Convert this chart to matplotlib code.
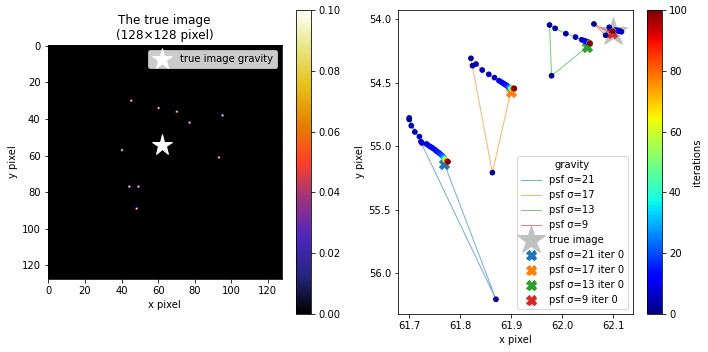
import numpy as np
import matplotlib
matplotlib.use("Agg")
import matplotlib.pyplot as plt
from matplotlib.lines import Line2D

# ---------------- data ----------------
img_size = 128
src_x = [45, 60, 70, 77, 95, 40, 93, 44, 49, 48]
src_y = [30, 34, 36, 42, 38, 57, 61, 77, 77, 89]
src_flux = [0.1] * 10
true_gx, true_gy = 62.1, 54.1

sigmas = [21, 17, 13, 9]

it21 = [1, 2, 3, 4, 5, 6, 7, 8, 9, 10, 11, 12, 13, 14, 15, 16, 18, 20, 25, 30, 40, 50, 60, 70, 80, 90, 100]
gx21 = [61.870, 61.700, 61.700, 61.704, 61.711, 61.720, 61.723, 61.725, 61.734, 61.738, 61.742, 61.746,
        61.750, 61.753, 61.756, 61.759, 61.762, 61.765, 61.767, 61.768, 61.769, 61.770, 61.771, 61.773,
        61.774, 61.775, 61.776]
gy21 = [56.204, 54.778, 54.790, 54.839, 54.888, 54.925, 54.965, 54.975, 54.983, 54.995, 55.005, 55.015,
        55.027, 55.037, 55.046, 55.055, 55.066, 55.076, 55.086, 55.093, 55.100, 55.105, 55.110, 55.114,
        55.118, 55.121, 55.123]

it17 = [1, 2, 3, 4, 5, 6, 7, 8, 9, 10, 12, 14, 16, 20, 25, 30, 40, 50, 60, 70, 80, 90, 100]
gx17 = [61.863, 61.821, 61.824, 61.831, 61.843, 61.856, 61.867, 61.876, 61.881, 61.885, 61.888, 61.891,
        61.893, 61.895, 61.897, 61.898, 61.899, 61.901, 61.902, 61.903, 61.904, 61.905, 61.906]
gy17 = [55.208, 54.309, 54.367, 54.354, 54.401, 54.435, 54.461, 54.485, 54.497, 54.507, 54.515, 54.523,
        54.530, 54.536, 54.540, 54.543, 54.545, 54.546, 54.546, 54.546, 54.546, 54.546, 54.546]

it13 = [1, 2, 3, 4, 5, 6, 7, 8, 10, 12, 15, 20, 30, 40, 50, 60, 70, 80, 90, 100]
gx13 = [61.979, 61.975, 61.986, 62.007, 62.026, 62.038, 62.043, 62.046, 62.048, 62.050, 62.051, 62.052,
        62.053, 62.054, 62.054, 62.054, 62.054, 62.054, 62.054, 62.054]
gy13 = [54.446, 54.047, 54.073, 54.115, 54.142, 54.163, 54.170, 54.175, 54.179, 54.182, 54.184, 54.186,
        54.188, 54.189, 54.190, 54.190, 54.191, 54.191, 54.191, 54.191]

it9 = [1, 2, 3, 4, 5, 6, 7, 8, 10, 12, 15, 20, 30, 40, 50, 60, 70, 80, 90, 100]
gx9 = [62.062, 62.085, 62.092, 62.110, 62.116, 62.113, 62.108, 62.105, 62.103, 62.102, 62.101, 62.100,
       62.100, 62.100, 62.099, 62.099, 62.099, 62.099, 62.099, 62.099]
gy9 = [54.039, 54.128, 54.065, 54.092, 54.100, 54.095, 54.090, 54.088, 54.090, 54.092, 54.094, 54.095,
       54.096, 54.096, 54.097, 54.097, 54.097, 54.097, 54.097, 54.097]

iter0_x = [61.769, 61.899, 62.049, 62.098]
iter0_y = [55.140, 54.575, 54.218, 54.112]

traj_it = [it21, it17, it13, it9]
traj_x = [gx21, gx17, gx13, gx9]
traj_y = [gy21, gy17, gy13, gy9]
colors = ["C0", "C1", "C2", "C3"]

# ---------------- figure ----------------
W, H, DPI = 708, 352, 72
fig = plt.figure(figsize=(W / DPI, H / DPI), dpi=DPI)

def ax_px(x0, y0, x1, y1):
    return fig.add_axes([x0 / W, 1 - y1 / H, (x1 - x0) / W, (y1 - y0) / H])

# left image
img = np.zeros((img_size, img_size))
for x, y, f in zip(src_x, src_y, src_flux):
    img[y, x] += f

ax1 = ax_px(47, 45, 282, 279)
im = ax1.imshow(img, cmap="CMRmap", vmin=0, vmax=0.1, interpolation="hanning",
                interpolation_stage="data")
ax1.plot([true_gx], [true_gy], marker="*", color="white", ms=22, ls="none",
         label="true image gravity")
ax1.set_title("The true image\n(128×128 pixel)", fontsize=12)
ax1.set_xlabel("x pixel")
ax1.set_ylabel("y pixel")
ax1.set_xticks([0, 20, 40, 60, 80, 100, 120])
ax1.set_yticks([0, 20, 40, 60, 80, 100, 120])
ax1.legend(loc="upper right", fontsize=10)
cax1 = ax_px(296, 10, 311, 314)
cb1 = fig.colorbar(im, cax=cax1)
cb1.set_ticks([0, 0.02, 0.04, 0.06, 0.08, 0.10])

# right trajectories
ax2 = ax_px(398, 10, 633, 314)
ax2.plot([true_gx], [true_gy], marker="*", color="silver", ms=30, ls="none", zorder=1)
for k, s in enumerate(sigmas):
    xs = [iter0_x[k]] + traj_x[k]
    ys = [iter0_y[k]] + traj_y[k]
    ax2.plot(xs, ys, color=colors[k], alpha=0.6, lw=1.0, zorder=2)
    ax2.scatter([iter0_x[k]], [iter0_y[k]], marker="X", s=100, color=colors[k], zorder=3)
sc = None
for k in range(4):
    sc = ax2.scatter(traj_x[k], traj_y[k], c=traj_it[k], cmap="jet", vmin=0, vmax=100, s=22, zorder=4)
ax2.set_xlim(61.678, 62.1386)
ax2.set_ylim(56.32, 53.929)
ax2.set_xticks([61.7, 61.8, 61.9, 62.0, 62.1])
ax2.set_yticks([54.0, 54.5, 55.0, 55.5, 56.0])
ax2.set_xlabel("x pixel")
ax2.set_ylabel("y pixel")

handles = [Line2D([], [], color=colors[k], alpha=0.6, lw=1.0) for k in range(4)]
labels = [f"psf σ={s}" for s in sigmas]
handles.append(Line2D([], [], marker="*", color="silver", ms=30, ls="none"))
labels.append("true image")
for k, s in enumerate(sigmas):
    handles.append(Line2D([], [], marker="X", color=colors[k], ms=10, ls="none"))
    labels.append(f"psf σ={s} iter 0")
ax2.legend(handles, labels, title="gravity", loc="lower right", fontsize=10, title_fontsize=10)

cax2 = ax_px(647, 10, 662, 314)
cb2 = fig.colorbar(sc, cax=cax2)
cb2.set_ticks([0, 20, 40, 60, 80, 100])
cb2.set_label("iterations")

fig.savefig("out.png", dpi=DPI)
